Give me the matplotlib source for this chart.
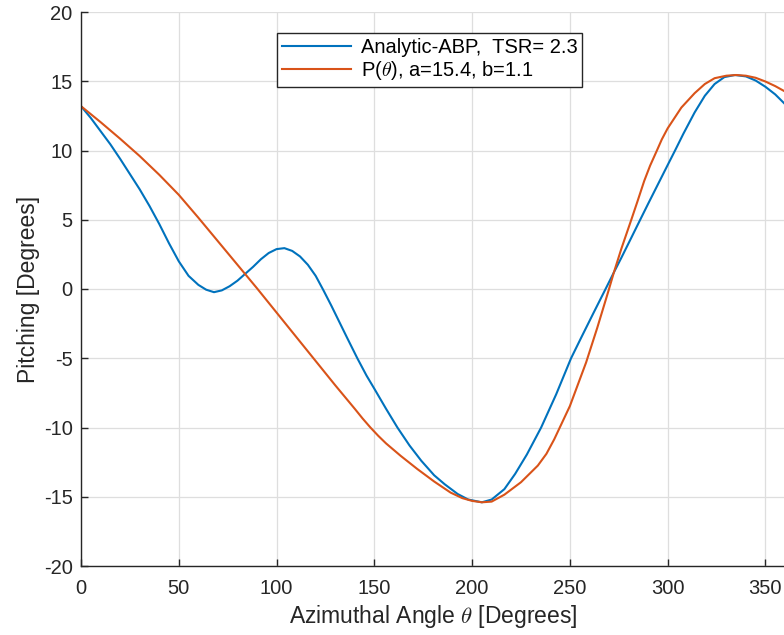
import matplotlib
matplotlib.use("Agg")
import matplotlib.pyplot as plt

plt.rcParams['font.family'] = ['Liberation Sans', 'DejaVu Sans']
plt.rcParams['mathtext.fontset'] = 'cm'
plt.rcParams['axes.unicode_minus'] = False

# values
theta_abp = [0, 5, 10, 15, 20, 25, 30, 35, 40, 45, 50, 55, 60, 64, 68, 72, 76, 80,
             84, 88, 92, 96, 100, 104, 108, 112, 116, 120, 124, 128, 132, 136,
             141.3, 146, 150, 156, 161.8, 168, 174, 180.6, 186, 192.6, 198, 205,
             210, 216.5, 222, 228, 235.3, 243, 250.6, 256, 262, 268.6, 272.5,
             276.3, 281.4, 285.6, 290, 295, 300, 303.6, 308, 313.8, 319, 324, 329,
             334.4, 340, 345, 350, 355, 360]
pitch_abp = [13.2, 12.35, 11.4, 10.45, 9.4, 8.3, 7.2, 6.0, 4.7, 3.3, 2.0, 0.95, 0.3,
             -0.05, -0.23, -0.1, 0.2, 0.6, 1.1, 1.6, 2.15, 2.6, 2.88, 2.95, 2.75,
             2.35, 1.75, 0.95, -0.1, -1.2, -2.35, -3.5, -5.0, -6.25, -7.2, -8.65,
             -10.0, -11.3, -12.4, -13.45, -14.1, -14.8, -15.2, -15.4, -15.2, -14.45,
             -13.35, -11.95, -10.0, -7.6, -5.0, -3.45, -1.75, 0.1, 1.2, 2.25, 3.7,
             4.9, 6.15, 7.55, 8.95, 9.95, 11.2, 12.75, 13.95, 14.8, 15.3, 15.45,
             15.35, 15.05, 14.6, 14.05, 13.35]

theta_fit = [0, 10, 20, 30, 40, 50, 60, 70, 80, 90, 100, 110, 120, 130, 140, 144,
             148, 152, 156, 163.5, 172, 180.6, 189, 195, 200, 205, 210, 216.5, 225,
             233.6, 238, 242, 250, 258.3, 264, 269.8, 272.5, 276.3, 281.4, 284.5,
             288, 291, 294.5, 297, 300, 307, 313.8, 319, 324, 330, 335, 340, 345,
             350, 355, 360]
pitch_fit = [13.2, 12.05, 10.85, 9.6, 8.25, 6.8, 5.15, 3.45, 1.75, 0.05, -1.7,
             -3.45, -5.2, -6.95, -8.65, -9.35, -10.0, -10.6, -11.15, -12.05, -13.0,
             -13.9, -14.7, -15.1, -15.3, -15.4, -15.35, -14.85, -13.95, -12.75,
             -11.9, -10.85, -8.45, -5.3, -2.8, -0.1, 1.2, 2.9, 5.0, 6.3, 7.8, 8.9,
             10.0, 10.8, 11.6, 13.1, 14.14, 14.8, 15.22, 15.4, 15.45, 15.4, 15.25,
             14.98, 14.65, 14.26]

xticks = [0, 50, 100, 150, 200, 250, 300, 350]
yticks = [-20, -15, -10, -5, 0, 5, 10, 15, 20]

fig = plt.figure(figsize=(7.84, 6.35), dpi=100)
ax = fig.add_axes([81 / 784, 1 - 566 / 635, 704 / 784, 554 / 635])

ax.plot(theta_abp, pitch_abp, color='#0072BD', lw=1.5, solid_joinstyle='round',
        label='Analytic-ABP,  TSR= 2.3')
ax.plot(theta_fit, pitch_fit, color='#D95319', lw=1.5, solid_joinstyle='round',
        label=r'P($\theta$), a=15.4, b=1.1')

ax.set_xlim(0, 360)
ax.set_ylim(-20, 20)
ax.set_xticks(xticks)
ax.set_yticks(yticks)
ax.grid(True, color='#dedede', lw=0.9)
ax.set_axisbelow(True)

for s in ['top', 'right']:
    ax.spines[s].set_visible(False)
for s in ['left', 'bottom']:
    ax.spines[s].set_color('#262626')
    ax.spines[s].set_linewidth(1.0)

ax.tick_params(direction='in', length=5, width=1.0, color='#262626',
               labelsize=14.5, labelcolor='#262626')
ax.tick_params(axis='x', pad=9)
ax.tick_params(axis='y', pad=6)

ax.set_xlabel(r'Azimuthal Angle $\theta$ [Degrees]', fontsize=16.5,
              color='#262626', labelpad=4)
ax.set_ylabel('Pitching [Degrees]', fontsize=16.5, color='#262626', labelpad=3)

leg = ax.legend(loc='upper left', bbox_to_anchor=(277 / 784, 1 - 33 / 635),
                bbox_transform=fig.transFigure, borderaxespad=0,
                fontsize=14.5, handlelength=3.4, handletextpad=0.5,
                labelspacing=0.1, borderpad=0.25, fancybox=False,
                framealpha=1, edgecolor='#262626')
leg.get_frame().set_linewidth(1.0)
for t in leg.get_texts():
    t.set_color('#000000')

fig.savefig('out.png', dpi=100)
